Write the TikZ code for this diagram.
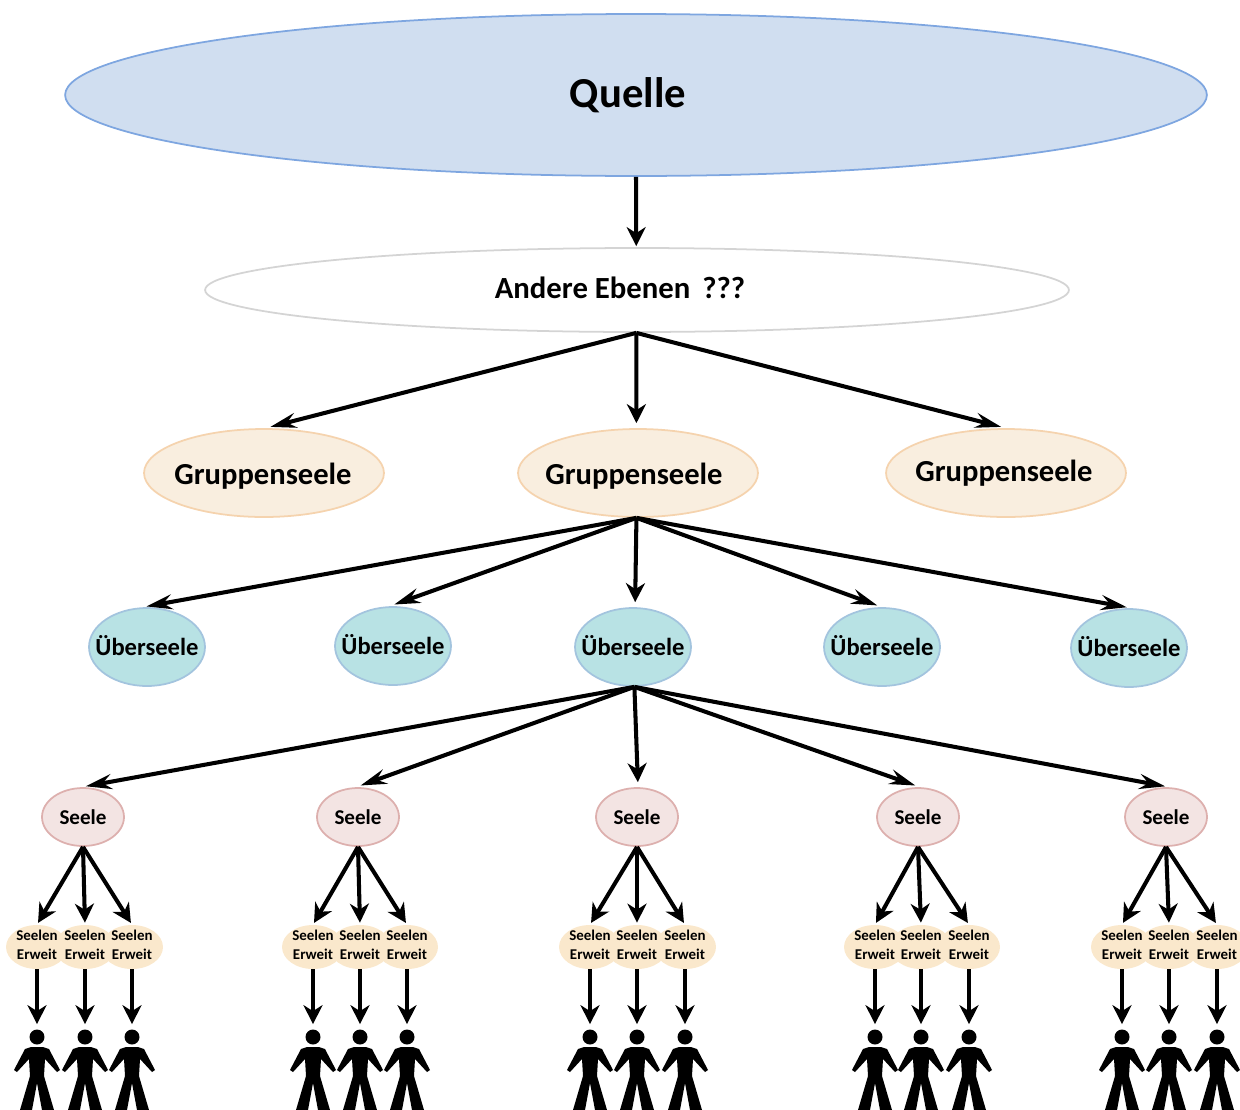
\documentclass[tikz,border=0pt]{standalone}
\usepackage{fontspec}
\usepackage{xcolor}
\setmainfont{Carlito}
\usetikzlibrary{arrows.meta,shapes.geometric}
\definecolor{quellefill}{HTML}{D0DEF0}
\definecolor{quelleline}{HTML}{7EA6E0}
\definecolor{ebeneline}{HTML}{D4D4D4}
\definecolor{gruppefill}{HTML}{F9EEDF}
\definecolor{gruppeline}{HTML}{F5D3AE}
\definecolor{ueberfill}{HTML}{B8E2E4}
\definecolor{ueberline}{HTML}{A3C4DE}
\definecolor{seelefill}{HTML}{F3E4E3}
\definecolor{seeleline}{HTML}{DDB0AE}
\definecolor{erweitfill}{HTML}{FAE8CC}
\tikzset{
  blob/.style={ellipse,draw,line width=1pt,inner sep=0pt,font=\bfseries},
  quelle/.style={blob,draw=quelleline,fill=quellefill,minimum width=22.84cm,minimum height=3.24cm,font=\fontsize{24.3}{26}\bfseries},
  ebene/.style={blob,text height=.5cm,text depth=.16cm,draw=ebeneline,fill=white,minimum width=17.28cm,minimum height=1.68cm,font=\fontsize{17.5}{20}\bfseries},
  gruppe/.style={blob,inner xsep=-.2cm,text height=.5cm,draw=gruppeline,fill=gruppefill,minimum width=4.8cm,minimum height=1.76cm,font=\fontsize{17.4}{20}\bfseries},
  ueber/.style={blob,inner xsep=-.25cm,text height=.4cm,text depth=.08cm,draw=ueberline,fill=ueberfill,minimum width=2.32cm,minimum height=1.56cm,font=\fontsize{14}{16}\bfseries},
  seele/.style={blob,inner xsep=-.1cm,draw=seeleline,fill=seelefill,minimum width=1.64cm,minimum height=1.16cm,font=\fontsize{12}{14}\bfseries},
  erweit/.style={ellipse,fill=erweitfill,inner sep=0pt,minimum width=1.24cm,minimum height=.88cm},
  erweittext/.style={align=center,inner sep=0pt,font=\fontsize{8.5}{10.8}\bfseries},
  kopf/.style={circle,fill=black,inner sep=0pt,minimum size=.3cm},
  pfeil/.style={line width=2.3pt,-{Stealth[length=.38cm,width=.38cm,inset=.12cm]},shorten >=.1cm},
  flach/.style={line width=2.3pt,-{Stealth[length=.52cm,width=.3cm,inset=.18cm]},shorten >=.1cm},
  koerper/.pic={\fill[black] (-6,10) -- (6,10) -- (12,12) -- (23,33) -- (20,35) -- (8,22) -- (7,39) -- (17,73) -- (5,73) -- (0,46) -- (-5,73) -- (-17,73) -- (-7,39) -- (-8,22) -- (-20,35) -- (-23,33) -- (-12,12) -- cycle;}
}
\begin{document}
\begin{tikzpicture}[x=.02cm,y=-.02cm]
\useasboundingbox (0,0) rectangle (1240,1109);
\node[quelle] (q) at (636,95) {Quelle\kern.32cm};
\node[ebene] (a) at (637,290) {Andere Ebenen\, ???\kern.68cm};
\draw[pfeil,shorten >=.02cm] (q.south) -- (a.91);
\foreach \n/\x/\w/\t/\r/\p in {1/264/88/.04cm/.06cm/flach,2/638/92/.16cm/.06cm/pfeil,3/1006/90/.08cm/.18cm/flach} {
  \node[gruppe,text depth=\r] (g\n) at (\x,473) {Gruppenseele\kern\t};
  \draw[\p] (a.269) -- (g\n.\w);
}
\foreach \n/\x/\y/\w/\p in {1/147/647/98/flach,2/393/646/95/flach,3/633/647/87/pfeil,4/882/647/90/flach,5/1129/648/86/flach} {
  \node[ueber] (u\n) at (\x,\y) {Überseele};
  \draw[\p] (g2.268) -- (u\n.\w);
}
\foreach \n/\x/\w/\a/\b/\c/\p in {1/83/94/37/85/132/flach,2/358/94/313/360/407/flach,3/637/88/590/637/685/pfeil,4/918/86/875/921/969/flach,5/1166/82/1122/1169/1217/flach} {
  \node[seele] (s\n) at (\x,817) {Seele};
  \draw[\p] (u3.272) -- (s\n.\w);
  \foreach \m/\ex in {1/\a,2/\b,3/\c} {
    \node[erweit] (e\n\m) at (\ex,947) {};
    \draw[pfeil,shorten >=.04cm] (s\n.south) -- (e\n\m.north);
  }
  \foreach \m/\ex in {1/\a,2/\b,3/\c} {
    \node[erweittext] (t\n\m) at (\ex,945) {Seelen\\Erweit};
    \node[kopf] (k\n\m) at (\ex,1037) {};
    \pic at (k\n\m) {koerper};
    \draw[pfeil] (e\n\m.south) -- (k\n\m.north);
  }
}
\end{tikzpicture}
\end{document}
